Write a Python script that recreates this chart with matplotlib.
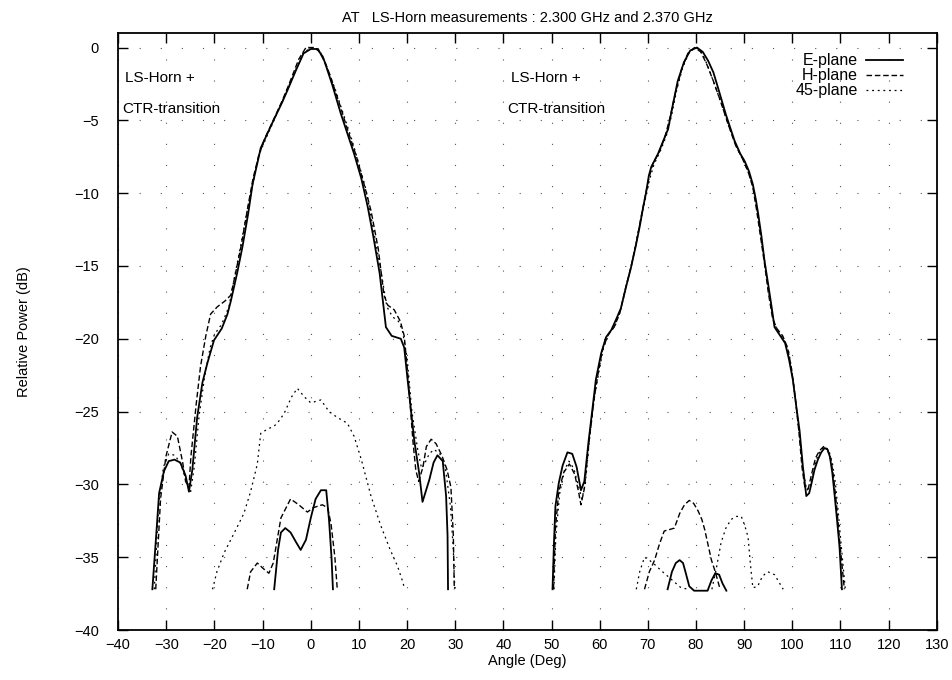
import numpy as np
import matplotlib
matplotlib.use("Agg")
import matplotlib.pyplot as plt

plt.rcParams['font.family'] = ['Liberation Sans', 'DejaVu Sans']

# ---- left horn (main beam near 0 deg) ----
e_left_ang = [-32.9, -32.0, -31.5, -30.5, -29.5, -28.3, -27.1, -26.0, -25.3, -24.6, -23.6, -22.5, -21.5,
              -20.1, -18.5, -17.3, -16.6, -15.3, -14.2, -13.0, -12.1, -11.0, -10.4, -9.0, -7.6, -6.0, -4.8,
              -3.0, -1.5, 0.0, 1.5, 2.8, 4.5, 6.2, 7.5, 9.0, 10.5, 11.8, 13.0, 14.3, 15.6, 16.8, 18.7, 19.4,
              20.1, 21.5, 22.5, 23.2, 24.6, 25.5, 26.3, 27.4, 28.1, 28.4, 28.5]
e_left_db = [-37.2, -33.0, -30.6, -29.1, -28.4, -28.3, -28.5, -29.4, -30.5, -29.0, -25.4, -23.0, -21.7,
             -20.1, -19.3, -18.3, -17.4, -15.5, -13.7, -11.4, -9.4, -7.8, -6.9, -5.9, -4.9, -3.8, -2.9,
             -1.5, -0.4, -0.1, -0.1, -0.9, -2.6, -4.5, -5.8, -7.3, -9.0, -10.9, -13.0, -15.5, -19.2, -19.8,
             -20.0, -20.6, -22.8, -27.0, -29.2, -31.2, -29.7, -28.5, -28.0, -28.4, -30.8, -33.5, -37.2]

h_left_ang = [-32.2, -31.2, -30.1, -28.8, -27.7, -26.6, -26.0, -25.3, -24.9, -23.8, -22.9, -21.8, -20.8,
              -19.4, -17.8, -16.6, -15.5, -14.4, -13.1, -12.0, -10.8, -9.5, -7.8, -6.0, -4.5, -2.5, -1.0,
              1.0, 2.5, 4.0, 6.0, 7.5, 9.5, 11.0, 12.5, 14.0, 15.2, 16.0, 17.3, 18.6, 19.4, 20.3, 21.2,
              21.8, 22.4, 23.3, 24.0, 25.0, 26.0, 27.2, 28.3, 29.1, 29.6, 29.8]
h_left_db = [-37.2, -31.0, -28.1, -26.4, -26.7, -28.5, -29.8, -30.2, -28.1, -24.5, -21.9, -19.8, -18.3,
             -17.8, -17.4, -17.0, -15.3, -13.5, -11.0, -9.0, -7.4, -6.2, -5.0, -3.7, -2.5, -0.8, 0.0,
             0.0, -0.6, -1.9, -3.9, -5.5, -7.5, -9.3, -11.2, -13.8, -17.0, -17.7, -18.0, -18.8, -19.8,
             -23.0, -27.0, -29.0, -29.8, -28.8, -27.4, -26.9, -27.2, -28.0, -29.0, -30.2, -33.5, -37.2]

d_left_ang = [-32.5, -31.6, -30.6, -29.5, -28.2, -27.0, -26.0, -25.0, -24.2, -23.2, -22.0, -20.9, -20.0,
              -18.5, -17.0, -15.8, -14.5, -13.2, -12.0, -10.8, -9.0, -7.5, -5.5, -3.5, -1.5, 0.5, 2.0,
              3.5, 5.0, 6.8, 8.5, 10.0, 11.5, 13.0, 14.5, 15.8, 17.0, 18.2, 19.0, 20.0, 21.0, 22.2, 23.0,
              23.6, 24.6, 25.6, 26.8, 28.0, 29.0, 29.6, 29.9]
d_left_db = [-37.2, -31.5, -28.8, -27.9, -28.0, -28.6, -29.6, -30.6, -28.8, -25.3, -22.5, -20.6, -19.7,
             -19.0, -17.8, -15.7, -13.5, -11.2, -9.3, -7.4, -6.0, -4.9, -3.4, -1.8, -0.3, 0.0, -0.3,
             -1.5, -2.8, -4.6, -6.3, -8.0, -9.8, -12.5, -15.2, -17.8, -18.5, -18.8, -19.4, -21.3, -25.0,
             -27.6, -28.9, -28.6, -27.9, -27.6, -27.9, -29.0, -31.5, -34.5, -37.2]

# low level traces, left horn
e_left_low_ang = [-7.6, -6.8, -6.2, -5.3, -4.2, -3.0, -2.1, -1.0, 0.0, 1.0, 2.1, 3.2, 3.8, 4.3, 4.6]
e_left_low_db = [-37.2, -34.5, -33.3, -33.0, -33.3, -34.0, -34.5, -33.8, -32.3, -31.0, -30.4, -30.4,
                 -32.5, -35.0, -37.2]
h_left_low_ang = [-13.2, -12.5, -11.1, -9.8, -8.7, -7.8, -6.2, -4.2, -2.5, -0.7, 0.5, 2.4, 3.5, 4.2,
                  5.0, 5.5]
h_left_low_db = [-37.2, -36.0, -35.4, -35.8, -36.1, -35.4, -32.3, -31.0, -31.4, -31.9, -31.6, -31.4,
                 -31.6, -32.7, -35.0, -37.2]
d_left_low_ang = [-20.4, -19.5, -18.0, -16.0, -13.9, -12.5, -11.1, -10.4, -9.0, -7.6, -6.5, -5.5, -4.0,
                  -2.8, -1.3, 0.0, 2.1, 3.8, 5.5, 7.6, 9.0, 10.5, 12.5, 14.5, 16.5, 18.0, 19.1, 19.5]
d_left_low_db = [-37.2, -36.0, -34.7, -33.4, -32.0, -30.5, -28.6, -26.5, -26.2, -26.0, -25.6, -25.1,
                 -24.0, -23.4, -24.0, -24.4, -24.2, -25.0, -25.4, -25.8, -26.7, -28.3, -30.8, -32.8,
                 -34.5, -35.6, -36.7, -37.2]

# ---- right horn (main beam near 80 deg) ----
e_right_ang = [50.2, 50.5, 50.8, 51.5, 52.3, 53.3, 54.3, 55.2, 56.1, 56.8, 57.7, 58.6, 59.2, 60.3, 61.3,
               62.4, 63.5, 64.4, 65.5, 66.5, 67.5, 68.3, 69.0, 69.6, 70.2, 70.7, 72.1, 73.2, 74.2, 75.2,
               76.2, 77.5, 78.8, 80.2, 81.4, 82.5, 83.6, 84.6, 86.2, 88.0, 89.2, 90.1, 91.0, 91.8, 92.4,
               92.9, 93.6, 94.2, 95.0, 95.6, 96.3, 97.5, 98.5, 99.3, 100.1, 100.8, 101.5, 102.2, 102.9,
               103.5, 104.0, 104.6, 105.3, 106.0, 106.7, 107.3, 107.8, 108.3, 108.8, 109.3, 109.8, 110.3]
e_right_db = [-37.2, -34.0, -31.5, -29.9, -28.7, -27.8, -27.9, -28.8, -30.4, -29.8, -27.0, -24.5, -22.8,
              -21.0, -19.9, -19.4, -18.6, -17.9, -16.4, -15.1, -13.6, -12.3, -11.0, -10.0, -8.8, -8.2,
              -7.3, -6.4, -5.6, -3.9, -2.3, -1.0, -0.2, 0.0, -0.3, -0.9, -1.7, -2.8, -4.6, -6.4, -7.3,
              -7.8, -8.5, -9.4, -10.4, -11.4, -13.0, -14.6, -16.3, -17.6, -19.2, -19.8, -20.3, -21.4,
              -22.8, -24.6, -26.3, -28.8, -30.8, -30.6, -29.9, -29.0, -28.3, -27.8, -27.5, -27.6, -28.1,
              -29.2, -30.8, -32.5, -34.3, -37.2]

h_right_ang = [50.4, 50.8, 51.5, 52.5, 53.7, 54.8, 55.6, 56.1, 56.8, 57.8, 58.8, 59.6, 60.6, 61.8, 63.0,
               64.2, 65.3, 66.4, 67.6, 68.5, 69.4, 70.2, 71.0, 72.3, 73.5, 74.6, 75.8, 77.0, 78.3, 79.7,
               81.0, 82.3, 83.6, 85.0, 86.6, 88.2, 89.6, 90.8, 91.8, 92.6, 93.4, 94.2, 95.0, 95.9, 96.8,
               98.0, 99.0, 99.8, 100.6, 101.4, 102.0, 102.6, 103.3, 104.0, 104.8, 105.6, 106.5, 107.3,
               108.0, 108.6, 109.2, 109.8, 110.3, 110.8]
h_right_db = [-37.2, -33.0, -30.5, -29.2, -28.6, -29.3, -30.5, -31.4, -30.3, -27.0, -24.2, -22.5, -20.7,
              -19.7, -19.2, -18.2, -16.6, -15.2, -13.4, -11.8, -10.3, -9.0, -8.0, -7.2, -6.2, -4.8, -3.0,
              -1.5, -0.4, 0.0, -0.3, -1.2, -2.3, -3.6, -5.2, -6.7, -7.6, -8.5, -9.6, -11.2, -13.0, -14.8,
              -16.8, -18.6, -19.3, -19.8, -20.6, -22.0, -24.0, -26.5, -28.8, -30.2, -30.3, -29.3, -28.2,
              -27.7, -27.4, -27.6, -28.3, -29.6, -31.5, -33.8, -35.5, -37.2]

d_right_ang = [50.5, 50.9, 51.7, 52.7, 53.6, 54.6, 55.5, 56.3, 57.0, 57.9, 58.9, 59.8, 60.8, 62.0, 63.2,
               64.3, 65.4, 66.5, 67.6, 68.6, 69.6, 70.4, 71.3, 72.6, 73.8, 74.9, 76.0, 77.2, 78.6, 80.0,
               81.3, 82.6, 83.9, 85.3, 86.9, 88.5, 89.9, 91.0, 92.0, 92.8, 93.6, 94.4, 95.2, 96.1, 97.0,
               98.2, 99.2, 100.0, 100.8, 101.6, 102.3, 103.0, 103.7, 104.4, 105.2, 106.0, 106.8, 107.6,
               108.3, 108.9, 109.5, 110.1, 110.6, 111.0]
d_right_db = [-37.2, -33.5, -30.6, -29.0, -28.4, -28.9, -30.0, -31.0, -30.0, -26.8, -24.0, -22.3, -20.6,
              -19.6, -19.1, -18.1, -16.5, -15.1, -13.3, -11.7, -10.2, -9.0, -8.0, -7.1, -6.1, -4.7, -2.9,
              -1.4, -0.3, 0.0, -0.4, -1.4, -2.6, -3.9, -5.5, -6.9, -7.8, -8.7, -9.8, -11.4, -13.2, -15.0,
              -17.0, -18.8, -19.5, -20.0, -20.8, -22.4, -24.6, -27.0, -29.2, -30.4, -30.2, -29.1, -28.1,
              -27.6, -27.4, -27.7, -28.5, -29.8, -31.8, -34.0, -35.8, -37.2]

# low level traces, right horn
e_right_low_ang = [74.1, 75.0, 75.8, 76.6, 77.3, 77.8, 78.6, 79.6, 80.6, 81.6, 82.4, 83.2, 84.0, 84.8,
                   85.5, 86.3]
e_right_low_db = [-37.2, -36.0, -35.4, -35.2, -35.4, -36.0, -37.0, -37.3, -37.3, -37.3, -37.3, -36.6,
                  -36.1, -36.2, -36.8, -37.3]
h_right_low_ang = [69.3, 70.3, 71.4, 72.4, 73.4, 74.5, 75.5, 76.6, 77.6, 78.6, 79.5, 80.4, 81.2, 81.8,
                   82.6, 83.2, 83.9, 84.5, 85.0]
h_right_low_db = [-37.2, -36.0, -35.2, -34.1, -33.2, -33.1, -33.0, -32.0, -31.4, -31.1, -31.3, -31.8,
                  -32.4, -33.1, -34.3, -35.2, -35.9, -36.6, -37.2]
d_right_low1_ang = [67.6, 68.3, 69.3, 70.3, 71.4, 72.7, 74.1, 75.5, 76.9, 78.5]
d_right_low1_db = [-37.2, -36.0, -35.0, -35.2, -35.5, -35.9, -36.3, -36.7, -37.1, -37.2]
d_right_low2_ang = [83.3, 84.2, 85.2, 86.2, 87.3, 88.4, 89.4, 90.1, 90.8, 91.3, 91.8, 92.8, 93.8, 94.9,
                    96.3, 97.2, 98.1]
d_right_low2_db = [-37.2, -35.8, -34.0, -33.0, -32.4, -32.2, -32.2, -32.8, -33.6, -35.5, -37.1, -37.0,
                   -36.3, -36.0, -36.2, -36.7, -37.2]

x_ticks = list(range(-40, 131, 10))
y_ticks = list(range(-40, 1, 5))

e_style = dict(color='black', lw=1.3, ls='-')
h_style = dict(color='black', lw=1.0, ls=(0, (4, 2)))
d_style = dict(color='black', lw=0.9, ls=(0, (1.5, 3)))

fig = plt.figure(figsize=(9.53, 6.8), dpi=100)
ax = fig.add_axes([0.124, 0.0735, 0.859, 0.878])

ax.plot(e_left_ang, e_left_db, label='E-plane', **e_style)
ax.plot(h_left_ang, h_left_db, label='H-plane', **h_style)
ax.plot(d_left_ang, d_left_db, label='45-plane', **d_style)
ax.plot(e_left_low_ang, e_left_low_db, **e_style)
ax.plot(h_left_low_ang, h_left_low_db, **h_style)
ax.plot(d_left_low_ang, d_left_low_db, **d_style)

ax.plot(e_right_ang, e_right_db, **e_style)
ax.plot(h_right_ang, h_right_db, **h_style)
ax.plot(d_right_ang, d_right_db, **d_style)
ax.plot(e_right_low_ang, e_right_low_db, **e_style)
ax.plot(h_right_low_ang, h_right_low_db, **h_style)
ax.plot(d_right_low1_ang, d_right_low1_db, **d_style)
ax.plot(d_right_low2_ang, d_right_low2_db, **d_style)

ax.set_xlim(-40, 130)
ax.set_ylim(-40, 1)
ax.set_xticks(x_ticks)
ax.set_yticks(y_ticks)
ax.grid(True, color='#555555', lw=0.8, ls=(0, (1, 18)))
ax.tick_params(direction='in', length=7, width=1, top=True, right=True, labelsize=10.5, pad=6)
ax.tick_params(axis='y', pad=14)
for s in ax.spines.values():
    s.set_linewidth(1.3)

ax.set_title('AT   LS-Horn measurements : 2.300 GHz and 2.370 GHz', fontsize=10.5, pad=8)
ax.set_xlabel('Angle (Deg)', fontsize=10.5, labelpad=1)
ax.set_ylabel('Relative Power (dB)', fontsize=10.5, labelpad=31)

ax.text(-38.5, -2.1, 'LS-Horn +', fontsize=11, va='center', ha='left')
ax.text(-39.2, -4.2, 'CTR-transition', fontsize=11, va='center', ha='left')
ax.text(41.5, -2.1, 'LS-Horn +', fontsize=11, va='center', ha='left')
ax.text(40.8, -4.2, 'CTR-transition', fontsize=11, va='center', ha='left')

ax.legend(loc='upper right', bbox_to_anchor=(0.972, 0.985), frameon=False, markerfirst=False,
          fontsize=11.5, handlelength=2.3, labelspacing=0.0, handletextpad=0.5, borderpad=0.2)

fig.savefig('out.png', dpi=100)
